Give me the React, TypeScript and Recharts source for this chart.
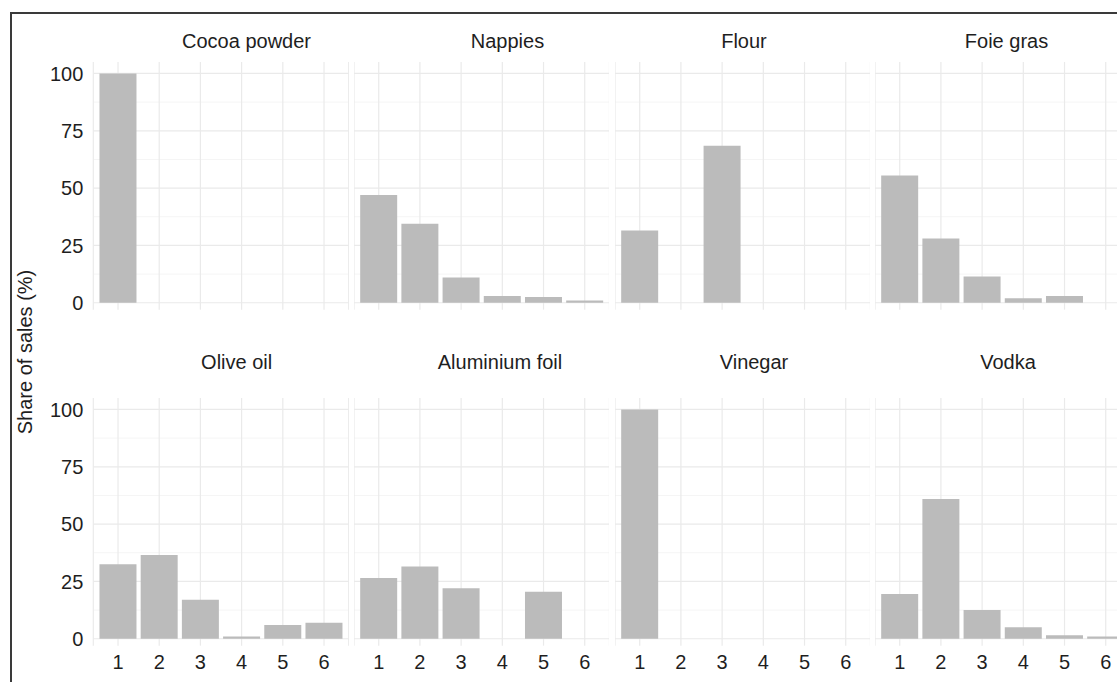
import React from 'react'
import { BarChart, Bar, XAxis, YAxis, CartesianGrid } from 'recharts'

// ranks 1..6 on the x axis, share of sales (%) on the y axis
const ranks = ['1', '2', '3', '4', '5', '6']
const yTicks = [0, 25, 50, 75, 100]
const yMinor = [12.5, 37.5, 62.5, 87.5]

const cocoaPowder = [100, 0, 0, 0, 0, 0]
const nappies = [47, 34.5, 11, 3, 2.5, 1]
const flour = [31.5, 0, 68.5, 0, 0, 0]
const foieGras = [55.5, 28, 11.5, 2, 3, 0]
const oliveOil = [32.5, 36.5, 17, 1, 6, 7]
const aluminiumFoil = [26.5, 31.5, 22, 0, 20.5, 0]
const vinegar = [100, 0, 0, 0, 0, 0]
const vodka = [19.5, 61, 12.5, 5, 1.5, 1]

const panels = [
  { title: 'Cocoa powder', values: cocoaPowder },
  { title: 'Nappies', values: nappies },
  { title: 'Flour', values: flour },
  { title: 'Foie gras', values: foieGras },
  { title: 'Olive oil', values: oliveOil },
  { title: 'Aluminium foil', values: aluminiumFoil },
  { title: 'Vinegar', values: vinegar },
  { title: 'Vodka', values: vodka },
]

const FONT = '"Liberation Sans", Arial, Helvetica, sans-serif'
const TEXT = '#1e1e1e'
const BAR = '#bbbbbb'

// layout (px)
const band = 41.2
const panelW = band * 6.2
const pad = band * 0.1
const colStep = 260.6
const firstLeft = 93.3
const yAxisW = firstLeft
const pxPerUnit = 2.293
const domain: [number, number] = [-3, 105]
const plotH = (domain[1] - domain[0]) * pxPerUnit
const zeroY = [303, 639]
const xAxisH = 36
const spare = 12 // room under the top row so the "0" label is not clipped
// strip titles are not quite centred over their panels in the original
const titleX = [
  [246.5, 507.5, 744, 1006.5],
  [236.7, 500, 754, 1008],
]
const titleY = [41, 362]

function Panel({ title, values, row, col }: { title: string; values: number[]; row: number; col: number }) {
  const data = ranks.map((r, i) => ({ rank: r, value: values[i] }))
  const showY = col === 0
  const showX = row === 1
  const plotLeft = firstLeft + col * colStep
  const top = zeroY[row] - domain[1] * pxPerUnit
  const left = showY ? plotLeft - yAxisW : plotLeft
  const width = panelW + (showY ? yAxisW : 0)
  const bottom = showX ? 0 : spare
  const height = plotH + (showX ? xAxisH : 0) + bottom

  return (
    <>
      <div
        style={{
          position: 'absolute',
          left: titleX[row][col] - 100,
          width: 200,
          top: titleY[row] - 12,
          textAlign: 'center',
          fontSize: 20,
          lineHeight: '24px',
          color: TEXT,
          fontFamily: FONT,
          whiteSpace: 'nowrap',
        }}
      >
        {title}
      </div>
      <div style={{ position: 'absolute', left, top }}>
        <BarChart
          width={width}
          height={height}
          data={data}
          margin={{ top: 0, right: 0, bottom, left: 0 }}
          barCategoryGap="5%"
        >
          <CartesianGrid horizontalValues={yMinor} vertical={false} stroke="#f3f3f3" strokeWidth={0.8} />
          <CartesianGrid horizontalValues={yTicks} stroke="#eaeaea" strokeWidth={1.2} />
          <XAxis
            dataKey="rank"
            hide={!showX}
            height={xAxisH}
            padding={{ left: pad, right: pad }}
            axisLine={false}
            tickLine={false}
            tickSize={0}
            tickMargin={9}
            interval={0}
            tick={{ fontSize: 20, fill: TEXT, fontFamily: FONT }}
          />
          <YAxis
            hide={!showY}
            width={yAxisW}
            domain={domain}
            ticks={yTicks}
            interval={0}
            allowDataOverflow
            axisLine={false}
            tickLine={false}
            tickSize={0}
            tickMargin={10}
            tick={{ fontSize: 20, fill: TEXT, fontFamily: FONT }}
          />
          <Bar dataKey="value" fill={BAR} isAnimationActive={false} />
        </BarChart>
      </div>
    </>
  )
}

export default function App() {
  return (
    <div
      style={{
        position: 'fixed',
        left: 0,
        top: 0,
        width: 1117,
        height: 682,
        overflow: 'hidden',
        background: '#fff',
        fontFamily: FONT,
      }}
    >
      {/* frame: only the left and top edges are visible in the crop */}
      <div
        style={{
          position: 'absolute',
          left: 10,
          top: 12,
          width: 1300,
          height: 900,
          borderLeft: '2px solid #3a3a3a',
          borderTop: '2px solid #3a3a3a',
        }}
      />
      <div
        style={{
          position: 'absolute',
          left: 25,
          top: 352,
          transform: 'translate(-50%, -50%) rotate(-90deg)',
          whiteSpace: 'nowrap',
          fontSize: 20,
          color: TEXT,
          fontFamily: FONT,
        }}
      >
        Share of sales (%)
      </div>
      {panels.map((p, i) => (
        <Panel key={p.title} title={p.title} values={p.values} row={Math.floor(i / 4)} col={i % 4} />
      ))}
    </div>
  )
}
